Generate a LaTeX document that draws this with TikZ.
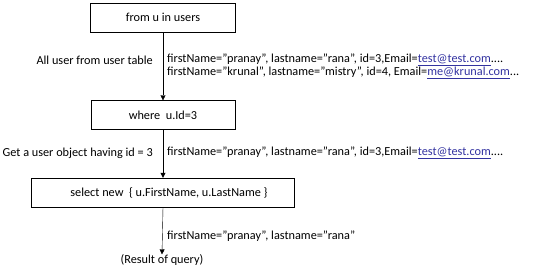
\documentclass[tikz,border=0pt]{standalone}
\usepackage{fontspec}
\setmainfont{Carlito}
\usepackage{xcolor}
\usetikzlibrary{arrows.meta,positioning}
\definecolor{linkblue}{RGB}{50,50,160}
\newcommand{\maillink}[1]{\textcolor{linkblue}{\underline{#1}}}

\begin{document}
\begin{tikzpicture}[x=1bp, y=-1bp, font=\fontsize{12.3}{13}\selectfont,
  qbox/.style={draw, minimum height=29bp, inner sep=0pt},
  flow/.style={-{Triangle[width=5bp,length=5bp]}},
  rowtext/.style={anchor=west, align=left, inner sep=0pt}]
\useasboundingbox (0,0) rectangle (540,271);
% Query boxes
\node[qbox, minimum width=145bp] (from) at (163,17.5) {from u in users};
\node[qbox, minimum width=144bp] (where) at (163,115) {where\ \ u.Id=3};
\node[qbox, minimum width=263bp] (select) at (163,192.5) {\hspace{12bp}select new\ \ \{ u.FirstName, u.LastName \}};
\node[inner sep=0pt] (result) at (162,260) {(Result of query)};
% Flow arrows
\draw[flow] (from.south) -- (where.north);
\draw[flow] (where.south) -- (select.north);
\draw[flow] (select.south) -- (result.north);
% Step descriptions
\node[anchor=east, inner sep=0pt] (alluser) at (153,60) {All user from user table};
\node[anchor=east, inner sep=0pt] (getuser) at (153,153) {Get a user object having id = 3};
% Data rows
\node[rowtext] (rows1) at (167,66.5) {firstName=”pranay”, lastname=”rana”, id=3,Email=\maillink{test@test.com}....\\
firstName=”krunal”, lastname=”mistry”, id=4, Email=\maillink{me@krunal.com}...};
\node[rowtext] (rows2) at (167,153) {firstName=”pranay”, lastname=”rana”, id=3,Email=\maillink{test@test.com}....};
\node[rowtext] (rows3) at (167,236) {firstName=”pranay”, lastname=”rana”};
\end{tikzpicture}
\end{document}
